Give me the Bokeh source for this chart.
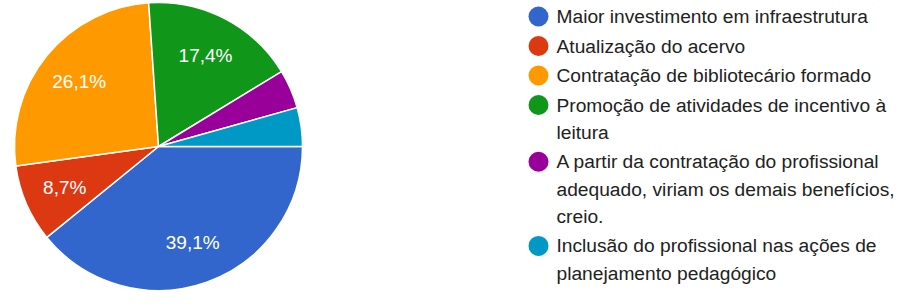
import math
from bokeh.plotting import figure
from bokeh.models import Range1d, ColumnDataSource
from bokeh.core.properties import value
from bokeh.embed import file_html
from bokeh.resources import INLINE

# ---- data ----
categories = [
    "Maior investimento em infraestrutura",
    "Atualização do acervo",
    "Contratação de bibliotecário formado",
    "Promoção de atividades de incentivo à\nleitura",
    "A partir da contratação do profissional\nadequado, viriam os demais benefícios,\ncreio.",
    "Inclusão do profissional nas ações de\nplanejamento pedagógico",
]
counts = [9, 2, 6, 4, 1, 1]
colors = ["#3366cc", "#dc3912", "#ff9900", "#109618", "#990099", "#0099c6"]

FONT = "Liberation Sans"
W, H = 899, 291

p = figure(width=W, height=H, output_backend="svg", toolbar_location=None,
           x_range=Range1d(0, W), y_range=Range1d(-H, 0),
           min_border=0)
p.axis.visible = False
p.grid.visible = False
p.outline_line_color = None
p.background_fill_color = "white"

# ---- pie ----
cx, cy, R = 158, -146, 144
total = sum(counts)
fracs = [c / total for c in counts]
starts, ends, mids = [], [], []
cum = 0.0
for f in fracs:
    a0 = -2 * math.pi * (cum + f)
    a1 = -2 * math.pi * cum
    starts.append(a0)
    ends.append(a1)
    mids.append((a0 + a1) / 2)
    cum += f

src = ColumnDataSource(dict(start=starts, end=ends, color=colors))
p.wedge(x=cx, y=cy, radius=R, start_angle="start", end_angle="end",
        fill_color="color", line_color="white", line_width=1.5, source=src)

lab_x, lab_y, lab_t = [], [], []
for f, m in zip(fracs, mids):
    if f >= 0.05:
        lab_x.append(cx + 0.71 * R * math.cos(m))
        lab_y.append(cy + 0.71 * R * math.sin(m))
        lab_t.append(f"{f * 100:.1f}".replace(".", ",") + "%")
p.text(x=lab_x, y=lab_y, text=lab_t, text_color="white",
       text_font=value(FONT), text_font_size="19px",
       text_align="center", text_baseline="middle")

# ---- legend ----
lx_dot, lx_text = 538, 556
y = -16
LINE, GAP = 27.3, 2.2
dot_x, dot_y, dot_c = [], [], []
tx, ty, tt = [], [], []
for lab, col in zip(categories, colors):
    lines = lab.split("\n")
    dot_x.append(lx_dot)
    dot_y.append(y)
    dot_c.append(col)
    for i, ln in enumerate(lines):
        tx.append(lx_text)
        ty.append(y - i * LINE)
        tt.append(ln)
    y -= len(lines) * LINE + GAP

p.scatter(x=dot_x, y=dot_y, size=20, fill_color=dot_c, line_color=None)
p.text(x=tx, y=ty, text=tt, text_color="#222222",
       text_font=value(FONT), text_font_size="19.2px",
       text_align="left", text_baseline="middle")

open("out.html", "w").write(file_html(p, INLINE))
